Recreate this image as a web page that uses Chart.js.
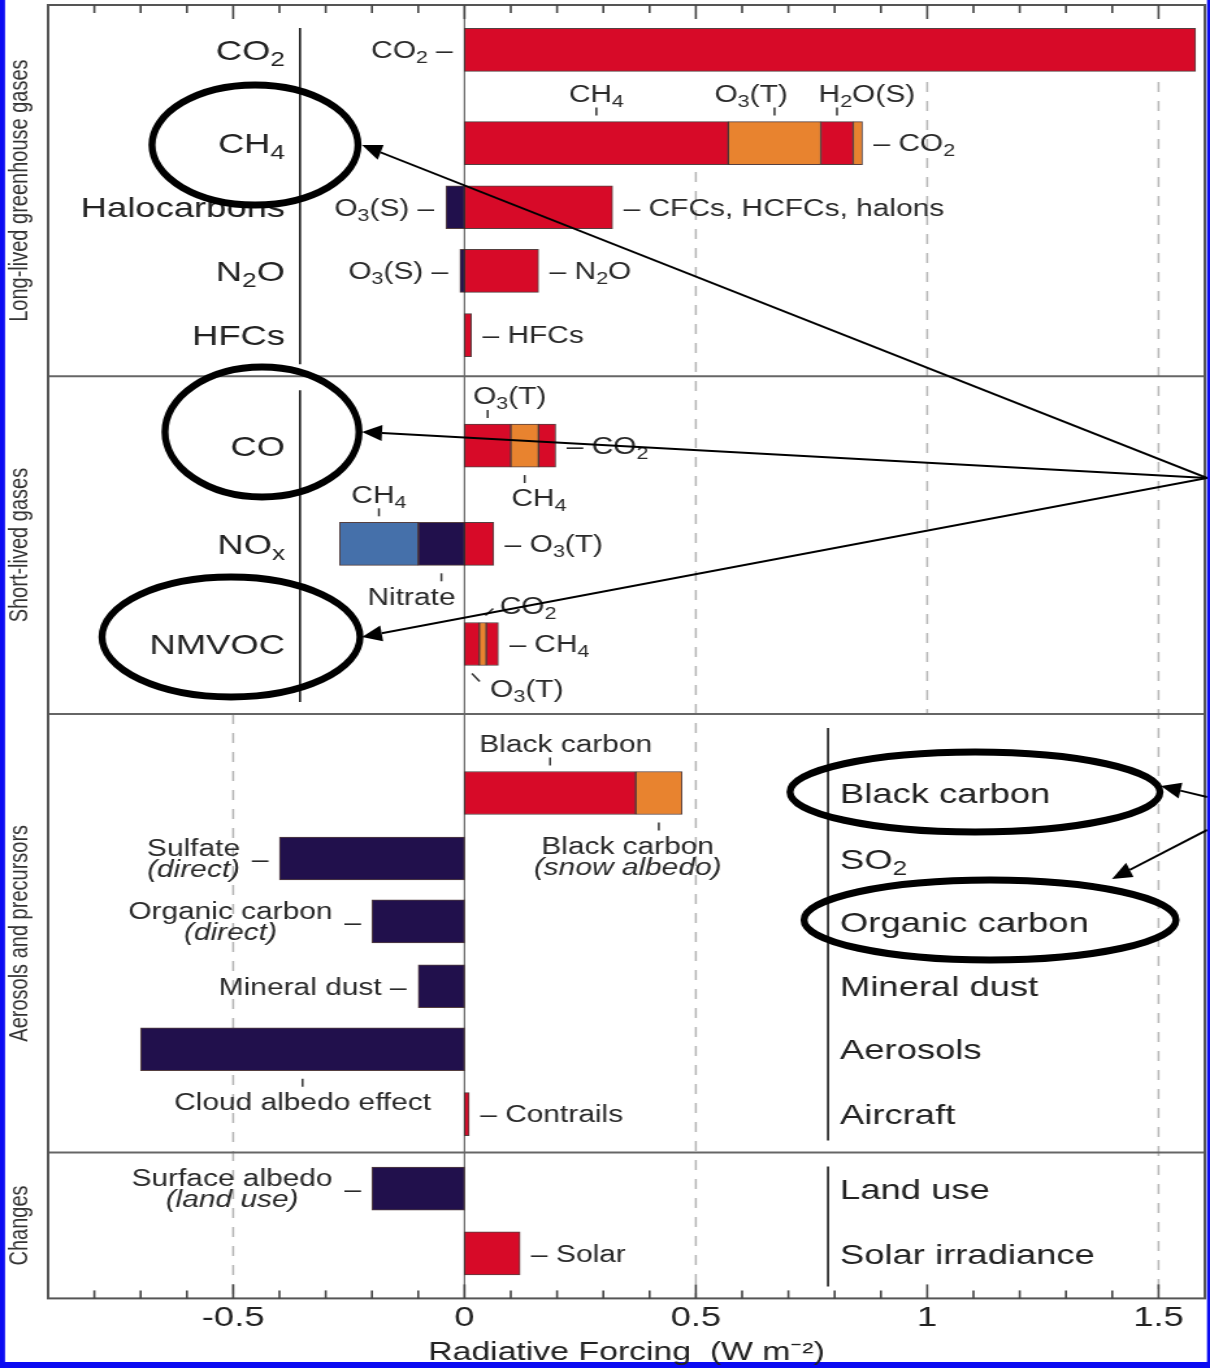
<!DOCTYPE html>
<html>
<head>
<meta charset="utf-8">
<script src="https://cdn.jsdelivr.net/npm/chart.js@4"></script>
<style>
  html, body { margin: 0; padding: 0; background: #fff; }
  canvas { display: block; }
</style>
</head>
<body>
<canvas id="c" width="931" height="1368" style="width:1210px;height:1368px"></canvas>
<script>
// ---- data -------------------------------------------------------------
// Emission rows, top to bottom ("_x" marks a subscript character)
const rowLabels = ['CO_2', 'CH_4', 'Halocarbons', 'N_2O', 'HFCs', 'CO', 'NO_x', 'NMVOC',
  'Black carbon', 'SO_2', 'Organic carbon', 'Mineral dust', 'Aerosols', 'Aircraft',
  'Land use', 'Solar irradiance'];
// Row centres on the vertical axis, in row units
const rowPos = [0.70, 2.15, 3.15, 4.14, 5.14, 6.86, 8.39, 9.95,
  12.27, 13.29, 14.27, 15.28, 16.26, 17.27, 18.43, 19.44];

const groupNames = ['Long-lived greenhouse gases', 'Short-lived gases', 'Aerosols and precursors', 'Changes'];
const groupEdges = [0, 5.78, 11.04, 17.87, 20.14];
const groupRows = [[0, 4], [5, 7], [8, 13], [14, 15]];

// Forcing components (W m-2); each row stacks its positive parts to the right
// of zero and its negative parts to the left, in the order listed
const segRow = [0, 1, 1, 1, 1, 2, 2, 3, 3, 4, 5, 5, 5, 6, 6, 6, 7, 7, 7, 8, 8, 9, 10, 11, 12, 13, 14, 15];
const segLabel = ['CO_2', 'CH_4', 'O_3(T)', 'H_2O(S)', 'CO_2', 'O_3(S)', 'CFCs, HCFCs, halons',
  'O_3(S)', 'N_2O', 'HFCs', 'O_3(T)', 'CH_4', 'CO_2', 'Nitrate', 'CH_4', 'O_3(T)',
  'O_3(T)', 'CO_2', 'CH_4', 'Black carbon', 'Black carbon|(snow albedo)', 'Sulfate|(direct)',
  'Organic carbon|(direct)', 'Mineral dust', 'Cloud albedo effect', 'Contrails',
  'Surface albedo|(land use)', 'Solar'];
const segValue = [1.58, 0.57, 0.20, 0.07, 0.02, -0.04, 0.32, -0.01, 0.16, 0.015,
  0.10, 0.06, 0.037, -0.10, -0.17, 0.063, 0.032, 0.015, 0.026, 0.37, 0.10,
  -0.40, -0.20, -0.10, -0.70, 0.01, -0.20, 0.12];
const segKind = ['red', 'red', 'orange', 'red', 'orange', 'navy', 'red', 'navy', 'red', 'red',
  'red', 'orange', 'red', 'navy', 'blue', 'red', 'red', 'orange', 'red', 'red', 'orange',
  'navy', 'navy', 'navy', 'navy', 'red', 'navy', 'red'];

const xTickValues = [-0.5, 0, 0.5, 1, 1.5];
const xTitle = 'Radiative Forcing  (W m\u207B\u00B2)';

// ---- presentation -----------------------------------------------------
const S = 1210 / 931;            // the canvas is shown stretched horizontally by S
const BAR = 43;                  // bar thickness, px
const FONT = "'Liberation Sans', Arial, Helvetica, sans-serif";
const kindColor = { red: '#d70a28', orange: '#e8832f', navy: '#21104c', blue: '#4570aa' };

// where each component's label sits relative to its bar, and a sideways nudge
const labelPlace = ['left', 'above', 'above', 'above', 'right', 'left', 'right', 'left', 'right', 'right',
  'above', 'below', 'right', 'below', 'above', 'right', 'belowSlant', 'aboveSlant', 'right',
  'above', 'below', 'left', 'left', 'left', 'below', 'right', 'left', 'right'];
const labelDx = [0, 0, -18, 23, 0, 0, 0, 0, 0, 0, 17, 11, 0, -23, 0, 0, 0, 0, 0, 12, -24,
  0, 0, 0, 0, 0, 0, 0];
// dashed reference lines: value, from / to (row units)
const dashLines = [[-0.5, 11.04, 20.14], [0.5, 2.6, 20.14], [1, 1.2, 11.04], [1.5, 1.2, 20.14]];

// stack the components into floating ranges
const segStart = [], segEnd = [];
{
  const pos = {}, neg = {};
  segValue.forEach((v, i) => {
    const r = segRow[i];
    const acc = v >= 0 ? pos : neg;
    const s = acc[r] || 0;
    segStart.push(s); segEnd.push(s + v); acc[r] = s + v;
  });
}

const datasets = Object.keys(kindColor).map(k => ({
  label: k,
  data: segValue.map((v, i) => i).filter(i => segKind[i] === k)
    .map(i => ({ x: [segStart[i], segEnd[i]], y: rowPos[segRow[i]] })),
  backgroundColor: kindColor[k],
  borderColor: 'rgba(55,30,30,0.85)',
  borderWidth: 1,
  borderSkipped: false,
  barThickness: BAR,
  grouped: false
}));

// ---- text helpers -----------------------------------------------------
function fontStr(size, italic) { return (italic ? 'italic ' : '') + size + 'px ' + FONT; }
function richParts(str) {
  const parts = []; let buf = '';
  for (let i = 0; i < str.length; i++) {
    if (str[i] === '_') { if (buf) parts.push({ t: buf, sub: false }); buf = ''; parts.push({ t: str[++i], sub: true }); }
    else buf += str[i];
  }
  if (buf) parts.push({ t: buf, sub: false });
  return parts;
}
function richWidth(ctx, str, size, italic) {
  let w = 0;
  richParts(str).forEach(p => { ctx.font = fontStr(p.sub ? size * 0.72 : size, italic); w += ctx.measureText(p.t).width; });
  return w;
}
function drawRich(ctx, str, x, yMid, size, align, italic, color) {
  const parts = richParts(str);
  const w = richWidth(ctx, str, size, italic);
  let cx = align === 'right' ? x - w : align === 'center' ? x - w / 2 : x;
  const base = yMid + size * 0.36;
  ctx.fillStyle = color || '#2a2a2a';
  ctx.textAlign = 'left';
  ctx.textBaseline = 'alphabetic';
  parts.forEach(p => {
    const sz = p.sub ? size * 0.72 : size;
    ctx.font = fontStr(sz, italic);
    ctx.fillText(p.t, cx, p.sub ? base + size * 0.22 : base);
    cx += ctx.measureText(p.t).width;
  });
  return w;
}
function line(ctx, x0, y0, x1, y1) { ctx.beginPath(); ctx.moveTo(x0, y0); ctx.lineTo(x1, y1); ctx.stroke(); }

// ---- drawing plugin ---------------------------------------------------
const decor = {
  id: 'decor',
  beforeDraw(chart) {
    const { ctx, width, height } = chart;
    ctx.save();
    ctx.fillStyle = '#fff';
    ctx.fillRect(0, 0, width, height);
    ctx.fillStyle = '#0b0bf2';
    ctx.fillRect(0, 0, 5 / S, height);
    ctx.fillRect(1207 / S, 0, width, height);
    ctx.fillRect(0, 1362, width, height);
    ctx.restore();
  },
  beforeDatasetsDraw(chart) {
    const { ctx, chartArea: a, scales: { x: xs, y: ys } } = chart;
    ctx.save();
    ctx.strokeStyle = '#b4b4b4';
    ctx.lineWidth = 1.5;
    ctx.setLineDash([10, 9]);
    dashLines.forEach(([v, f, t]) => {
      const px = xs.getPixelForValue(v);
      line(ctx, px, ys.getPixelForValue(f), px, ys.getPixelForValue(t));
    });
    ctx.setLineDash([]);
    ctx.strokeStyle = '#6a6a6a';
    ctx.lineWidth = 1.2;
    const z = xs.getPixelForValue(0);
    line(ctx, z, a.top, z, a.bottom);
    ctx.restore();
  },
  afterDatasetsDraw(chart) {
    const { ctx, chartArea: a, scales: { x: xs, y: ys } } = chart;
    ctx.save();

    // group separators
    ctx.strokeStyle = '#666';
    ctx.lineWidth = 2;
    groupEdges.slice(1, -1).forEach(e => { const py = ys.getPixelForValue(e); line(ctx, a.left, py, a.right, py); });

    // frame
    ctx.strokeStyle = '#555';
    ctx.lineWidth = 2;
    ctx.strokeRect(a.left, a.top, a.right - a.left, a.bottom - a.top);

    // inward tick marks every 0.1
    ctx.strokeStyle = '#444';
    ctx.lineWidth = 1.6;
    for (let i = -8; i <= 15; i++) {
      const px = xs.getPixelForValue(i / 10);
      const len = i % 5 === 0 ? 14 : 8;
      line(ctx, px, a.top, px, a.top + len);
      line(ctx, px, a.bottom, px, a.bottom - len);
    }

    // group titles, bracket lines and row names
    groupNames.forEach((name, g) => {
      const y0 = ys.getPixelForValue(groupEdges[g]), y1 = ys.getPixelForValue(groupEdges[g + 1]);
      ctx.save();
      ctx.translate(15.4, (y0 + y1) / 2);
      ctx.rotate(-Math.PI / 2);
      ctx.fillStyle = '#333';
      ctx.font = fontStr(20);
      ctx.textAlign = 'center';
      ctx.textBaseline = 'middle';
      ctx.fillText(name, 0, 0);
      ctx.restore();

      const leftSide = g < 2;
      const bx = leftSide ? 300 / S : 828 / S;
      ctx.strokeStyle = '#1a1a1a';
      ctx.lineWidth = 1.6;
      line(ctx, bx, y0 + (g === 0 ? 23 : 14), bx, y1 - 12);
      for (let r = groupRows[g][0]; r <= groupRows[g][1]; r++) {
        const yc = ys.getPixelForValue(rowPos[r]);
        if (leftSide) drawRich(ctx, rowLabels[r], 285 / S, yc, 28, 'right', false, '#222');
        else drawRich(ctx, rowLabels[r], 840 / S, yc, 28, 'left', false, '#222');
      }
    });

    // component labels
    ctx.strokeStyle = '#333';
    ctx.lineWidth = 1.5;
    const AS = 23;
    segLabel.forEach((lab, i) => {
      const x0 = xs.getPixelForValue(segStart[i]), x1 = xs.getPixelForValue(segEnd[i]);
      const l = Math.min(x0, x1), r = Math.max(x0, x1), c = (x0 + x1) / 2;
      const yc = ys.getPixelForValue(rowPos[segRow[i]]);
      const top = yc - BAR / 2, bot = yc + BAR / 2;
      const lines = lab.split('|');
      const dx = labelDx[i];
      switch (labelPlace[i]) {
        case 'left':
          if (lines.length === 1) drawRich(ctx, lab + ' \u2013', l - 9, yc, AS, 'right');
          else {
            const dw = drawRich(ctx, '\u2013', l - 8.5, yc, AS, 'right');
            const bw = Math.max(...lines.map(t => richWidth(ctx, t, AS, t[0] === '(')));
            const cx = l - 8.5 - dw - 9 - bw / 2;
            lines.forEach((t, k) => drawRich(ctx, t, cx, yc - 10.5 + k * 21, AS, 'center', t[0] === '('));
          }
          break;
        case 'right':
          drawRich(ctx, '\u2013 ' + lab, r + 8.5, yc, AS, 'left');
          break;
        case 'above':
          line(ctx, c, top - 14, c, top - 6);
          drawRich(ctx, lab, c + dx, top - 28, AS, 'center');
          break;
        case 'below':
          line(ctx, c, bot + 8, c, bot + 16);
          lines.forEach((t, k) => drawRich(ctx, t, c + dx, bot + 31 + k * 21, AS, 'center', t[0] === '('));
          break;
        case 'aboveSlant':
          line(ctx, c + 2, top - 7, c + 8, top - 14);
          drawRich(ctx, lab, c + 13, top - 17, AS, 'left');
          break;
        case 'belowSlant':
          line(ctx, c, bot + 8, c + 6, bot + 16);
          drawRich(ctx, lab, c + 14, bot + 23, AS, 'left');
          break;
      }
    });

    // highlight rings and pointers, drawn in page pixels
    ctx.save();
    ctx.scale(1 / S, 1);
    ctx.strokeStyle = '#000';
    ctx.lineWidth = 7;
    [[255, 145, 103, 60], [262, 432, 97, 65], [231, 637, 129, 60], [975, 792, 185, 40], [990, 920, 186, 40]]
      .forEach(([ex, ey, rx, ry]) => { ctx.beginPath(); ctx.ellipse(ex, ey, rx, ry, 0, 0, Math.PI * 2); ctx.stroke(); });
    ctx.lineWidth = 2;
    ctx.fillStyle = '#000';
    [[1207, 478, 362, 145], [1207, 478, 362, 432], [1207, 478, 362, 637], [1207, 797, 1161, 786], [1207, 830, 1112, 879]]
      .forEach(([sx, sy, tx, ty]) => {
        const ang = Math.atan2(ty - sy, tx - sx);
        const hl = 20, hw = 8;
        const bx = tx - hl * Math.cos(ang), by = ty - hl * Math.sin(ang);
        line(ctx, sx, sy, bx, by);
        ctx.beginPath();
        ctx.moveTo(tx, ty);
        ctx.lineTo(bx + hw * Math.sin(ang), by - hw * Math.cos(ang));
        ctx.lineTo(bx - hw * Math.sin(ang), by + hw * Math.cos(ang));
        ctx.closePath();
        ctx.fill();
      });
    ctx.restore();

    ctx.restore();
  }
};

new Chart(document.getElementById('c'), {
  type: 'bar',
  data: { datasets },
  options: {
    indexAxis: 'y',
    responsive: false,
    devicePixelRatio: 1,
    animation: false,
    events: [],
    layout: { padding: { left: 37, right: 4, top: 5, bottom: 1 } },
    plugins: { legend: { display: false }, tooltip: { enabled: false } },
    scales: {
      y: {
        type: 'linear', reverse: true, offset: false, min: 0, max: groupEdges[groupEdges.length - 1],
        display: false, grid: { offset: false }
      },
      x: {
        type: 'linear', min: -0.9, max: 1.6,
        afterBuildTicks: s => { s.ticks = xTickValues.map(v => ({ value: v })); },
        grid: { display: false, drawTicks: false },
        border: { display: false },
        ticks: {
          padding: 6, color: '#222', maxRotation: 0, autoSkip: false,
          font: { family: FONT, size: 28, lineHeight: 1.0 },
          callback: v => String(v)
        },
        title: {
          display: true, text: xTitle, color: '#222',
          font: { family: FONT, size: 26, lineHeight: 1.1 },
          padding: { top: 0, bottom: 0 }
        }
      }
    }
  },
  plugins: [decor]
});
</script>
</body>
</html>
